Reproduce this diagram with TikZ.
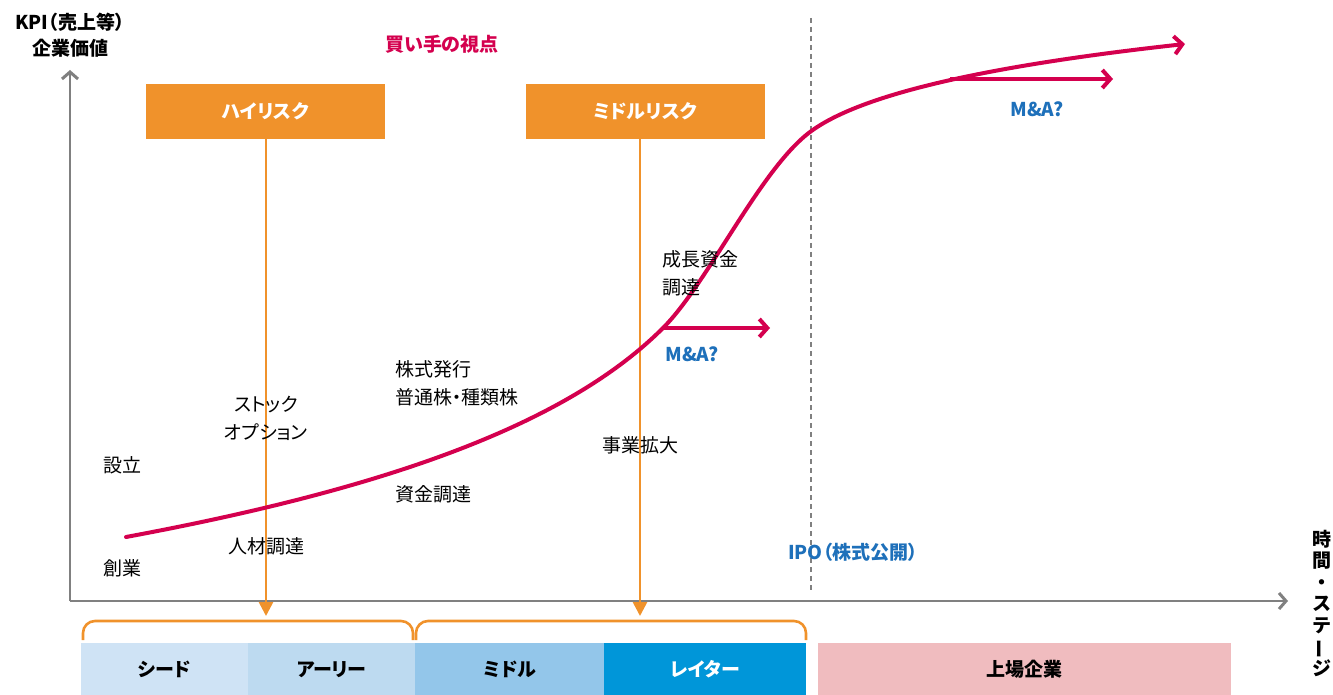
\documentclass[tikz,border=0pt]{standalone}
\usepackage{fontspec}
\setmainfont{Noto Sans CJK JP}[RawFeature=+palt]
\newfontfamily\vfont{Noto Sans CJK JP}
\usetikzlibrary{arrows.meta}
\definecolor{orng}{RGB}{240,146,43}
\definecolor{crim}{RGB}{212,0,78}
\definecolor{blu}{RGB}{30,112,186}
\definecolor{axg}{RGB}{128,128,128}
\definecolor{seed}{RGB}{207,227,245}
\definecolor{early}{RGB}{189,218,240}
\definecolor{mid}{RGB}{147,198,234}
\definecolor{late}{RGB}{0,150,217}
\definecolor{listed}{RGB}{240,188,191}
\begin{document}
\begin{tikzpicture}[x=1pt,y=-1pt,
  txt/.style={font=\fontsize{19}{28}\selectfont, text=black, inner sep=0pt},
  btxt/.style={font=\fontsize{19}{26}\selectfont\bfseries, inner sep=0pt},
  riskbox/.style={fill=orng, text=white, font=\fontsize{19}{23}\selectfont\bfseries, minimum width=239pt, minimum height=55pt, inner sep=0pt},
  stagebar/.style={minimum height=52pt, inner sep=0pt, font=\fontsize{19}{23}\selectfont\bfseries, anchor=north west},
  axis/.style={axg, line width=2.5pt, -{Straight Barb[length=7pt,width=16pt,line width=3pt]}},
  redarrow/.style={crim, line width=4pt, -{Straight Barb[length=8pt,width=18pt,line width=4pt]}},
  orline/.style={orng, line width=2.6pt, -{Triangle[length=14pt,width=14pt]}},
  bracket/.style={orng, line width=2.6pt, rounded corners=12pt},
  bluelbl/.style={text=blu, font=\fontsize{19}{23}\selectfont\bfseries, inner sep=0pt}
]
\useasboundingbox (0,0) rectangle (1333,695);

% axes
\coordinate (O) at (70,601);
\coordinate (ytip) at (70,70);
\coordinate (xtip) at (1288,601);
\draw[axis] (O) -- (ytip);
\draw[axis] (O) -- (xtip);

\node[btxt] (ylabelA) at (70,22) {KPI（売上等）};
\node[btxt] (ylabelB) at (70,48) {企業価値};
\node[inner sep=0pt, align=center, font=\fontsize{19}{21.5}\selectfont\bfseries\vfont\bfseries] (xlabel) at (1322,603)
  {時\\間\\・\\ス\\テ\\\rotatebox[origin=c]{90}{ー}\\ジ};

% dashed IPO line
\coordinate (d1) at (811,18);
\coordinate (d2) at (811,590);
\draw[axg, line width=1.3pt, dash pattern=on 5pt off 4pt] (d1) -- (d2);

% risk boxes
\node[riskbox] (hr) at (265.5,111.5) {ハイリスク};
\node[riskbox] (mr) at (645,111.5) {ミドルリスク};
\coordinate (hrend) at (266,616);
\coordinate (mrend) at (640,616);
\draw[orline] (hr.south -| hrend) -- (hrend);
\draw[orline] (mr.south -| mrend) -- (mrend);

% brackets
\draw[bracket] (83,640) -- (83,621) -- (413,621) -- (413,640);
\draw[bracket] (416,640) -- (416,621) -- (806,621) -- (806,640);

% stage bars
\node[stagebar, fill=seed, minimum width=167pt] (seedn) at (81,643) {シード};
\node[stagebar, fill=early, minimum width=167pt] (earlyn) at (248,643) {アーリー};
\node[stagebar, fill=mid, minimum width=189pt] (midn) at (415,643) {ミドル};
\node[stagebar, fill=late, minimum width=202pt, text=white] (laten) at (604,643) {レイター};
\node[stagebar, fill=listed, minimum width=413pt] (listn) at (818,643) {上場企業};

% curve
\coordinate (c0) at (126,537);
\coordinate (cM1) at (663,328);
\coordinate (cIPO) at (810,132);
\coordinate (cM2) at (950,79);
\coordinate (cEnd) at (1185,44);
\draw[crim, line width=4pt, line cap=round, -{Straight Barb[length=8pt,width=18pt,line width=4pt]}]
  (c0) .. controls (376,490.5) and (563,428) .. (cM1)
       .. controls (708,283) and (760,169.5) .. (cIPO)
       .. controls (860,94.5) and (985,66) .. (cEnd);
\draw[redarrow] (cM1) -- (770,328);
\draw[redarrow] (cM2) -- (1113,79);

% labels
\node[btxt, text=crim] (buyer) at (442,44) {買い手の視点};
\node[txt] (setsu) at (122,465) {設立};
\node[txt] (sogyo) at (122,568) {創業};
\node[txt, align=center] (stock) at (266,418) {ストック\\オプション};
\node[txt] (jinzai) at (266,546) {人材調達};
\node[txt, align=left, anchor=west] (kabu) at (395,383) {株式発行\\普通株・種類株};
\node[txt, anchor=west] (shikin) at (395,494) {資金調達};
\node[txt] (jigyo) at (640,445) {事業拡大};
\node[txt, align=left, anchor=west] (seicho) at (662,273) {成長資金\\調達};
\node[bluelbl] (ma1) at (692,354) {M\&A?};
\node[bluelbl] (ma2) at (1037,109) {M\&A?};
\node[bluelbl] (ipo) at (853,552) {IPO（株式公開）};
\end{tikzpicture}
\end{document}
